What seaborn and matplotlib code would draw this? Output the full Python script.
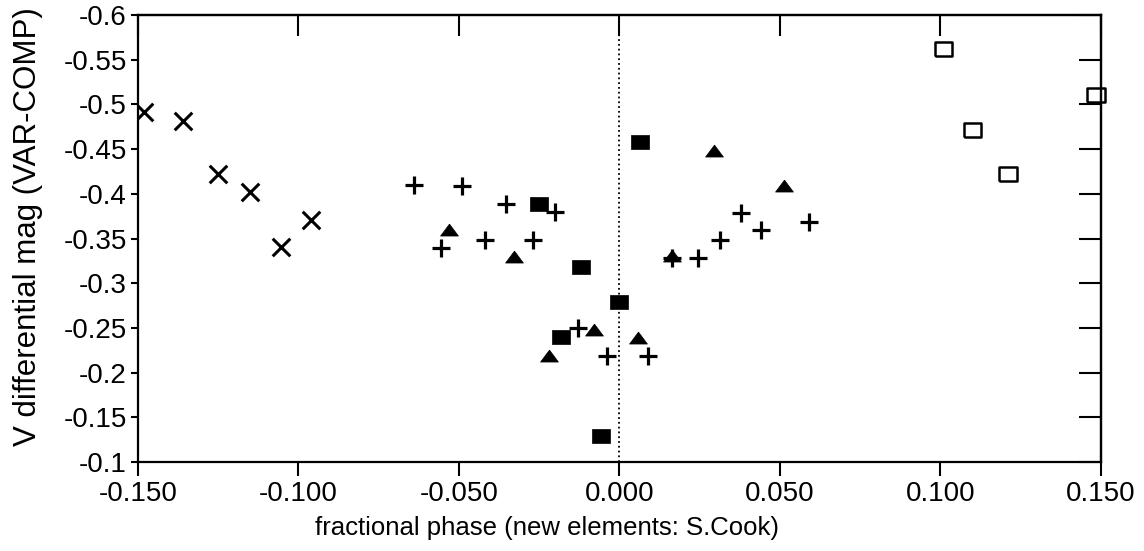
import numpy as np
import pandas as pd
import seaborn as sns
import matplotlib.pyplot as plt

# phase / magnitude per observing set
x_cross = [-0.148, -0.136, -0.125, -0.115, -0.1055, -0.096]
y_cross = [-0.492, -0.481, -0.422, -0.402, -0.340, -0.371]

x_plus = [-0.064, -0.049, -0.0556, -0.042, -0.0353, -0.0202, -0.027, -0.013,
          -0.004, 0.0088, 0.0164, 0.0244, 0.0314, 0.038, 0.044, 0.059]
y_plus = [-0.410, -0.409, -0.339, -0.348, -0.389, -0.380, -0.348, -0.250,
          -0.219, -0.219, -0.328, -0.328, -0.348, -0.379, -0.359, -0.369]

x_tri = [-0.053, -0.033, -0.022, -0.0078, 0.0059, 0.0164, 0.0293, 0.0512]
y_tri = [-0.359, -0.329, -0.219, -0.248, -0.239, -0.330, -0.448, -0.409]

x_sq = [0.0064, -0.0251, -0.0119, -0.0002, -0.0182, -0.0057]
y_sq = [-0.458, -0.389, -0.318, -0.279, -0.240, -0.129]

x_open = [0.101, 0.110, 0.121, 0.1485]
y_open = [-0.562, -0.471, -0.422, -0.5105]

xticks = [-0.15, -0.10, -0.05, 0.0, 0.05, 0.10, 0.15]
xtick_labels = ['-0.150', '-0.100', '-0.050', '0.000', '0.050', '0.100', '0.150']
yticks = [-0.6, -0.55, -0.5, -0.45, -0.4, -0.35, -0.3, -0.25, -0.2, -0.15, -0.1]
ytick_labels = ['-0.6', '-0.55', '-0.5', '-0.45', '-0.4', '-0.35', '-0.3',
                '-0.25', '-0.2', '-0.15', '-0.1']

sns.set_style('ticks')
plt.rcParams['font.family'] = ['Liberation Sans', 'DejaVu Sans']
plt.rcParams['axes.unicode_minus'] = False
plt.rcParams['text.color'] = 'black'
plt.rcParams['axes.labelcolor'] = 'black'

rect = [(-1, -0.78), (1, -0.78), (1, 0.78), (-1, 0.78), (-1, -0.78)]
tri = [(0, 0.72), (-1, -0.62), (1, -0.62), (0, 0.72)]

fig = plt.figure(figsize=(11.44, 5.51), dpi=100)
ax = fig.add_axes([0.1206, 0.1615, 0.8418, 0.8113])

ax.axvline(0, color='black', ls=':', lw=1.3, zorder=1)

sns.scatterplot(x=x_cross, y=y_cross, marker='x', s=160, color='black',
                linewidth=2.2, ax=ax, zorder=3)
sns.scatterplot(x=x_plus, y=y_plus, marker='+', s=160, color='black',
                linewidth=2.3, ax=ax, zorder=3)
sns.scatterplot(x=x_tri, y=y_tri, marker=tri, s=165, color='black',
                edgecolor='black', linewidth=0.5, ax=ax, zorder=3)
sns.scatterplot(x=x_sq, y=y_sq, marker=rect, s=170, color='black',
                edgecolor='black', linewidth=0.5, ax=ax, zorder=3)
sns.scatterplot(x=x_open, y=y_open, marker=rect, s=160, facecolor='none',
                edgecolor='black', linewidth=1.8, ax=ax, zorder=4,
                clip_on=False)

ax.set_xlim(-0.15, 0.15)
ax.set_ylim(-0.6, -0.1)
ax.invert_yaxis()

ax.set_xticks(xticks)
ax.set_xticklabels(xtick_labels)
ax.set_yticks(yticks)
ax.set_yticklabels(ytick_labels)
ax.tick_params(axis='x', direction='out', length=10, width=1.5, pad=4,
               labelsize=20, colors='black')
ax.tick_params(axis='y', direction='out', length=5, width=1.5, pad=3,
               labelsize=20, colors='black')

# inward ticks on top and right
top = ax.secondary_xaxis('top')
top.set_xticks(xticks)
top.tick_params(direction='in', length=15, width=1.5, labeltop=False,
                colors='black')
right = ax.secondary_yaxis('right')
right.set_yticks(yticks)
right.tick_params(direction='in', length=16, width=1.5, labelright=False,
                  colors='black')

for a in (ax, top, right):
    for sp in a.spines.values():
        sp.set_linewidth(1.6)
        sp.set_color('black')

ax.set_xlabel('fractional phase (new elements: S.Cook)', fontsize=18.5)
ax.xaxis.set_label_coords(0.425, -0.12)
ax.set_ylabel('V differential mag (VAR-COMP)', fontsize=22.5)
ax.yaxis.set_label_coords(-0.099, 0.527)

fig.savefig('out.png', dpi=100)
